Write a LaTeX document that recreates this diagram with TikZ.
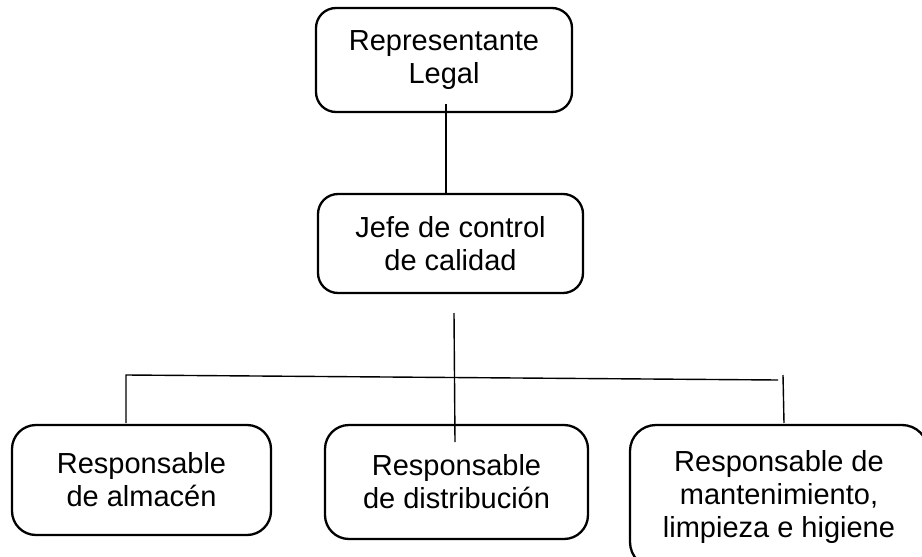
\documentclass[tikz,border=0pt]{standalone}
\usepackage{fontspec}
\setmainfont{Liberation Sans}
\begin{document}
\begin{tikzpicture}[x=1pt,y=-1pt,
  box/.style={draw, line width=2.3pt, rounded corners=20pt, align=center, inner sep=0pt,
    font=\fontsize{29}{33}\selectfont},
  conn/.style={line width=1.4pt}]
\useasboundingbox (0,0) rectangle (922,557);
\clip (0,0) rectangle (922,557);
\node[box, minimum width=256pt, minimum height=104pt] (rl) at (444,60) {Representante\\Legal};
\node[box, minimum width=265pt, minimum height=99pt] (jefe) at (450.5,243.5) {Jefe de control\\de calidad};
\node[box, rounded corners=24pt, minimum width=259pt, minimum height=110pt] (alm) at (141.5,480) {Responsable\\de almacén};
\node[box, rounded corners=24pt, minimum width=263pt, minimum height=114pt] (dist) at (456.5,482) {Responsable\\de distribución};
\node[box, rounded corners=26pt, minimum width=298pt, minimum height=143pt] (mant) at (779,496.5) {Responsable de\\mantenimiento,\\limpieza e higiene};
% connector endpoints
\coordinate (c1) at (446,104);
\coordinate (c2) at (446,193);
\coordinate (m1) at (454,313);
\coordinate (m2) at (455,442);
\coordinate (h1) at (126,375);
\coordinate (h2) at (778,380);
\coordinate (l2) at (126,423);
\coordinate (r1) at (783,375);
\coordinate (r2) at (784,423);
\draw[conn] (c1) -- (c2);
\draw[conn] (m1) -- (m2);
\draw[conn] (l2) -- (h1) -- (h2);
\draw[conn] (r1) -- (r2);
\end{tikzpicture}
\end{document}
